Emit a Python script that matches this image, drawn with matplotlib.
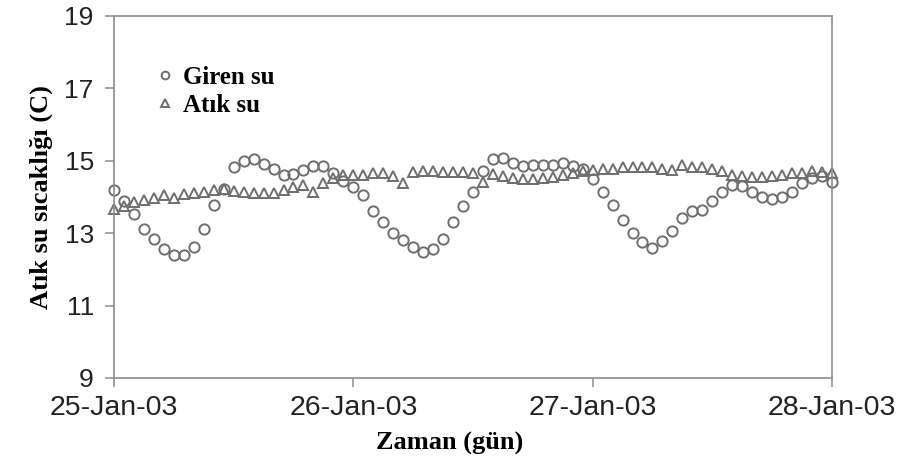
import matplotlib
matplotlib.use("Agg")
import matplotlib.pyplot as plt
import matplotlib.dates as mdates
import numpy as np
import pandas as pd

# Saatlik ölçümler, 25-Jan-03 00:00 - 28-Jan-03 00:00
zaman = pd.date_range("2003-01-25 00:00", "2003-01-28 00:00", freq="h")

giren_su = [
    14.19, 13.90, 13.53, 13.12, 12.83, 12.57, 12.39, 12.41, 12.63, 13.12,
    13.79, 14.21, 14.83, 15.00, 15.04, 14.91, 14.77, 14.61, 14.64, 14.75,
    14.86, 14.86, 14.67, 14.45, 14.27, 14.06, 13.62, 13.32, 13.01, 12.81,
    12.61, 12.48, 12.55, 12.83, 13.31, 13.76, 14.14, 14.73, 15.04, 15.07,
    14.95, 14.86, 14.88, 14.88, 14.88, 14.95, 14.86, 14.78, 14.50, 14.13,
    13.78, 13.36, 13.01, 12.76, 12.59, 12.78, 13.07, 13.42, 13.60, 13.63,
    13.90, 14.15, 14.34, 14.30, 14.15, 14.00, 13.94, 13.99, 14.13, 14.40,
    14.52, 14.58, 14.41,
]

atik_su = [
    13.68, 13.75, 13.87, 13.92, 13.98, 14.06, 13.98, 14.08, 14.12, 14.15,
    14.19, 14.21, 14.17, 14.15, 14.10, 14.10, 14.12, 14.19, 14.27, 14.33,
    14.15, 14.38, 14.52, 14.61, 14.61, 14.61, 14.65, 14.65, 14.58, 14.38,
    14.68, 14.73, 14.73, 14.70, 14.68, 14.68, 14.67, 14.42, 14.64, 14.58,
    14.52, 14.50, 14.50, 14.52, 14.55, 14.61, 14.67, 14.72, 14.74, 14.76,
    14.78, 14.84, 14.82, 14.84, 14.82, 14.76, 14.75, 14.88, 14.84, 14.84,
    14.78, 14.71, 14.61, 14.58, 14.56, 14.56, 14.58, 14.60, 14.65, 14.66,
    14.71, 14.68, 14.66,
]

y_ticks = [9, 11, 13, 15, 17, 19]

gri = "#6e6e6e"
eksen_gri = "#8c8c8c"

fig = plt.figure(figsize=(9.04, 4.63), dpi=100)
ax = fig.add_axes([0.1261, 0.1836, 0.7942, 0.7819])

ax.plot(zaman, giren_su, linestyle="none", marker="o", markersize=7.4,
        markerfacecolor="none", markeredgecolor=gri, markeredgewidth=1.4,
        clip_on=False, label="Giren su")
ax.plot(zaman, atik_su, linestyle="none", marker="^", markersize=7.8,
        markerfacecolor="none", markeredgecolor=gri, markeredgewidth=1.4,
        clip_on=False, label="Atık su")

ax.set_xlim(pd.Timestamp("2003-01-25"), pd.Timestamp("2003-01-28"))
ax.set_ylim(9, 19)
ax.set_yticks(y_ticks)
ax.xaxis.set_major_locator(mdates.DayLocator())
ax.xaxis.set_major_formatter(mdates.DateFormatter("%d-%b-%y"))

for s in ax.spines.values():
    s.set_color(eksen_gri)
    s.set_linewidth(1.2)

ax.tick_params(axis="both", direction="out", length=6.5, width=1.1,
               color=eksen_gri, labelcolor="#222222")
ax.tick_params(axis="y", labelsize=19, pad=8)
ax.tick_params(axis="x", labelsize=20.5, pad=6)
for t in ax.get_xticklabels() + ax.get_yticklabels():
    t.set_fontfamily("Liberation Sans")

serif = {"family": "Liberation Serif", "weight": "bold", "size": 19}
ax.set_xlabel("Zaman (gün)", fontdict=serif, labelpad=4)
ax.set_ylabel("Atık su sıcaklığı (C)", fontdict=serif, labelpad=8)
ax.xaxis.set_label_coords(0.467, -0.148)

leg = ax.legend(loc="upper left", bbox_to_anchor=(0.026, 0.925), frameon=False,
                prop={"family": "Liberation Serif", "weight": "bold", "size": 18},
                handlelength=0.8, handletextpad=0.3, labelspacing=0.22,
                markerscale=0.75)

fig.savefig("out.png", dpi=100)
